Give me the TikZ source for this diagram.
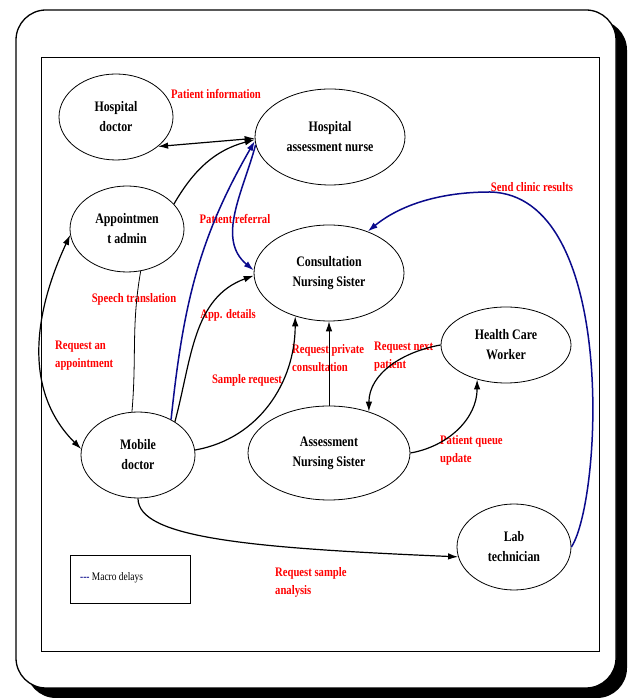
\documentclass[tikz,border=0pt]{standalone}
\usepackage{fontspec}
\setmainfont[FakeStretch=0.82]{Liberation Serif}
\usepackage{tikz}
\usetikzlibrary{shapes.geometric, arrows.meta, positioning, calc}
\definecolor{delayblue}{RGB}{10,10,140}
\definecolor{msgred}{RGB}{255,0,0}

\begin{document}
\begin{tikzpicture}[x=1pt, y=1pt, >={Latex[length=10pt,width=6.5pt]},
    party/.style={ellipse, draw, line width=0.8pt, inner sep=0pt, align=center, font=\fontsize{14.5}{20}\selectfont\bfseries},
    flow/.style={->, line width=1.2pt},
    delay/.style={->, line width=1.5pt, delayblue},
    msg/.style={text=msgred, align=left, inner sep=0pt, font=\fontsize{13}{18}\selectfont\bfseries}]
\useasboundingbox (0,0) rectangle (628,698);

% frame with shadow
\fill[black, rounded corners=30pt] (26,0) rectangle (627,678);
\draw[fill=white, line width=1.3pt, rounded corners=30pt] (16,10) rectangle (616,688);
\draw[line width=0.8pt] (41,47) rectangle (599,641);

\node[party, minimum width=114pt, minimum height=86pt] (hd) at (116,581) {Hospital\\doctor};
\node[party, minimum width=150pt, minimum height=96pt] (han) at (330,561) {Hospital\\assessment nurse};
\node[party, minimum width=114pt, minimum height=86pt] (aa) at (127,469) {Appointmen\\t admin};
\node[party, minimum width=150pt, minimum height=96pt] (cns) at (329,425) {Consultation\\Nursing Sister};
\node[party, minimum width=130pt, minimum height=76pt] (hcw) at (506,353) {Health Care\\Worker};
\node[party, minimum width=114pt, minimum height=86pt] (md) at (138,243) {Mobile\\doctor};
\node[party, minimum width=162pt, minimum height=94pt] (ans) at (329,245) {Assessment\\Nursing Sister};
\node[party, minimum width=114pt, minimum height=86pt] (lt) at (514,151) {Lab\\technician};

% legend
\node[draw, line width=0.8pt, minimum width=120pt, minimum height=48pt] (legend) at (130,119) {};
\node[anchor=west, inner sep=0pt, font=\fontsize{11.5}{14}\selectfont] (legtext) at (80,120) {\textcolor{delayblue}{\bfseries -{}-{}-} Macro delays};

% messages
\node[msg, anchor=west] (pinfo) at (171,604) {Patient information};
\node[msg] (pref) at (235,479) {Patient referral};
\node[msg] (speech) at (134,399) {Speech translation};
\node[msg, anchor=west] (reqapp) at (55,342) {Request an\\appointment};
\node[msg] (appdet) at (228,383) {App. details};
\node[msg] (sampreq) at (247,318) {Sample request};
\node[msg, anchor=west] (reqpriv) at (292,340) {Request private\\consultation};
\node[msg, anchor=west] (reqnext) at (374,341) {Request next\\patient};
\node[msg, anchor=west] (queue) at (440,248) {Patient queue\\update};
\node[msg, anchor=west] (reqsamp) at (275,116) {Request sample\\analysis};
\node[msg] (results) at (532,511) {Send clinic results};

\coordinate (peak) at (490,506);

\draw[flow, <->] (hd.-35) -- (han.181);
\draw[flow] (aa.28) to[out=60, in=195] (han.182);
\draw[delay] (md.47) to[out=84, in=240] (han.183);
\draw[delay] (han.186) to[out=255, in=140] (cns.178);
\draw[line width=0.8pt] (aa.-72) to[out=-100, in=85] (md.98);
\draw[flow, <->] (aa.186) to[out=245, in=135] (md.174);
\draw[flow] (md.42) to[out=75, in=200] (cns.182);
\draw[flow] (md.5) to[out=10, in=-90] (cns.-128);
\draw[->, line width=0.9pt] (ans.north) -- (cns.south);
\draw[flow] (hcw.west) to[out=190, in=90] (ans.46);
\draw[flow] (ans.east) to[out=10, in=-90] (hcw.-130);
\draw[flow] (md.south) .. controls (138,160) and (250,150) .. (lt.190);
\draw[delay] (lt.east) .. controls (602,198) and (618,503) .. (peak)
    .. controls (440,506) and (400,493) .. (cns.47);
\end{tikzpicture}
\end{document}
